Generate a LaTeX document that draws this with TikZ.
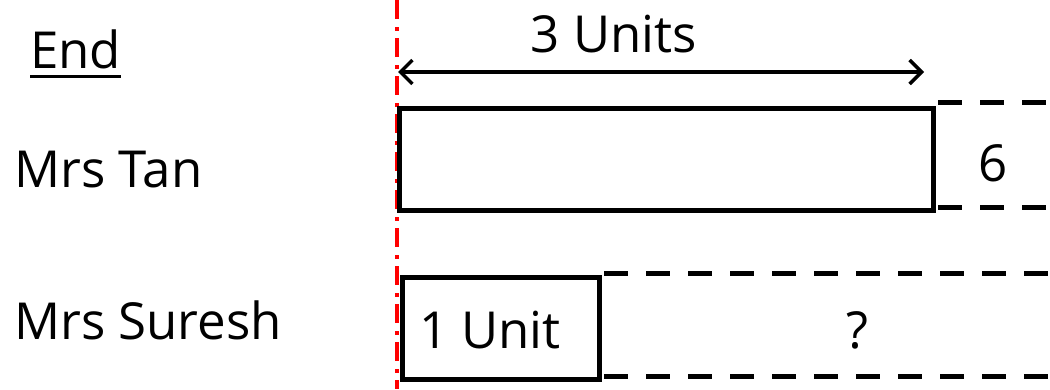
\documentclass[tikz,border=0pt]{standalone}
\usepackage{fontspec}
\setmainfont{Open Sans}
\usetikzlibrary{arrows.meta}
\begin{document}
\begin{tikzpicture}[x=1pt,y=-1pt,
  lbl/.style={font=\fontsize{51}{55}\selectfont, inner sep=0pt},
  solidbox/.style={draw, line width=5pt, inner sep=0pt},
  dashline/.style={line width=5pt, dash pattern=on 24pt off 18pt},
  redline/.style={red, line width=4pt, dash pattern=on 19pt off 8pt on 4pt off 7pt},
  dim/.style={line width=3.5pt, {Straight Barb[length=12pt,width=24pt]}-{Straight Barb[length=12pt,width=24pt]}}]
\useasboundingbox (0,0) rectangle (1050,389);
% red reference line
\coordinate (rtop) at (397,0);
\coordinate (rbot) at (397,389);
\draw[redline] (rtop) -- (rbot);
% labels
\node[lbl, anchor=base west] (end) at (30,68) {End};
\draw[line width=3pt] ([yshift=-8pt]end.base west) -- ([yshift=-8pt]end.base east);
\node[lbl, anchor=base west] (tan) at (14,187) {Mrs Tan};
\node[lbl, anchor=base west] (suresh) at (14,339) {Mrs Suresh};
% Mrs Tan box
\node[solidbox, minimum width=534pt, minimum height=102pt, anchor=north west] (tanbox) at (397,106) {};
\coordinate (tantopend) at (1050,102);
\coordinate (tanbotend) at (1050,207);
\draw[dashline] ([xshift=2pt]tanbox.north east |- tantopend) -- (tantopend);
\draw[dashline] ([xshift=2pt]tanbox.south east |- tanbotend) -- (tanbotend);
\node[lbl] (six) at (993,163) {6};
% dimension arrow
\coordinate (a1) at (398,72);
\coordinate (a2) at (924,72);
\draw[dim] (a1) -- (a2);
\node[lbl] (units) at (614,34) {3 Units};
% Mrs Suresh box
\node[solidbox, minimum width=197pt, minimum height=102pt, anchor=north west] (unitbox) at (400,275) {};
\node[lbl] (unit) at (490,330) {1 Unit};
\coordinate (stopend) at (1050,273);
\coordinate (sbotend) at (1050,376);
\draw[dashline] ([xshift=2pt]unitbox.north east |- stopend) -- (stopend);
\draw[dashline] ([xshift=2pt]unitbox.south east |- sbotend) -- (sbotend);
\node[lbl] (q) at (857,330) {?};
\end{tikzpicture}
\end{document}
